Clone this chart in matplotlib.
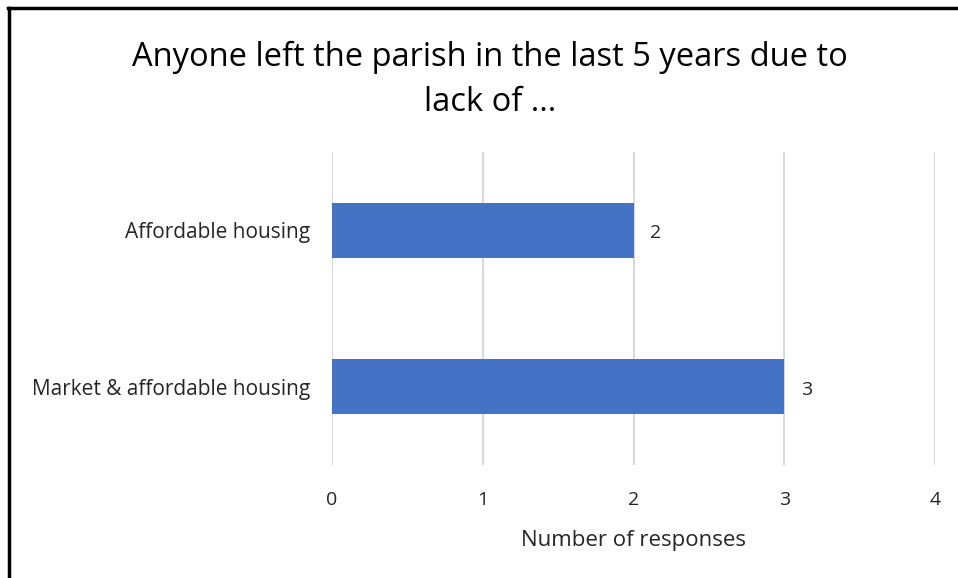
import matplotlib.pyplot as plt
from matplotlib.lines import Line2D

categories = ['Market & affordable housing', 'Affordable housing']
responses = [3, 2]
x_ticks = [0, 1, 2, 3, 4]

W, H = 958, 578
fig = plt.figure(figsize=(W / 100, H / 100), dpi=100)
plt.rcParams['font.family'] = ['Open Sans', 'DejaVu Sans']

ax = fig.add_axes([332 / W, 113 / H, (935 - 332) / W, (465 - 152) / H])
bars = ax.barh(range(len(categories)), responses, height=0.35, color='#4472C4', zorder=3)

for i, v in enumerate(responses):
    ax.text(v + 0.11, i - 0.02, str(v), va='center', ha='left', fontsize=14, color='#262626')

ax.set_xlim(0, 4)
ax.set_ylim(-0.5, len(categories) - 0.5)
ax.set_xticks(x_ticks)
ax.set_xticklabels([str(t) for t in x_ticks], fontsize=14, color='#262626')
ax.set_yticks(range(len(categories)))
ax.set_yticklabels(categories, fontsize=15, color='#262626')
ax.tick_params(axis='both', length=0)
ax.tick_params(axis='x', pad=18.5)
ax.tick_params(axis='y', pad=16)
ax.grid(axis='x', color='#D9D9D9', linewidth=1.5, zorder=0)
for s in ax.spines.values():
    s.set_visible(False)

ax.set_xlabel('Number of responses', fontsize=16, color='#262626', labelpad=15)

fig.text(490 / W, 1 - 80 / H, 'Anyone left the parish in the last 5 years due to\nlack of ...',
         ha='center', va='center', fontsize=23.5, color='#000000', linespacing=1.45)

# frame on left and top edges
fig.add_artist(Line2D([9 / W, 9 / W], [0, 1 - 8 / H], transform=fig.transFigure, color='black', linewidth=2.5))
fig.add_artist(Line2D([8 / W, 1], [1 - 8 / H, 1 - 8 / H], transform=fig.transFigure, color='black', linewidth=2.5))

fig.savefig('out.png', dpi=100, facecolor='white')
